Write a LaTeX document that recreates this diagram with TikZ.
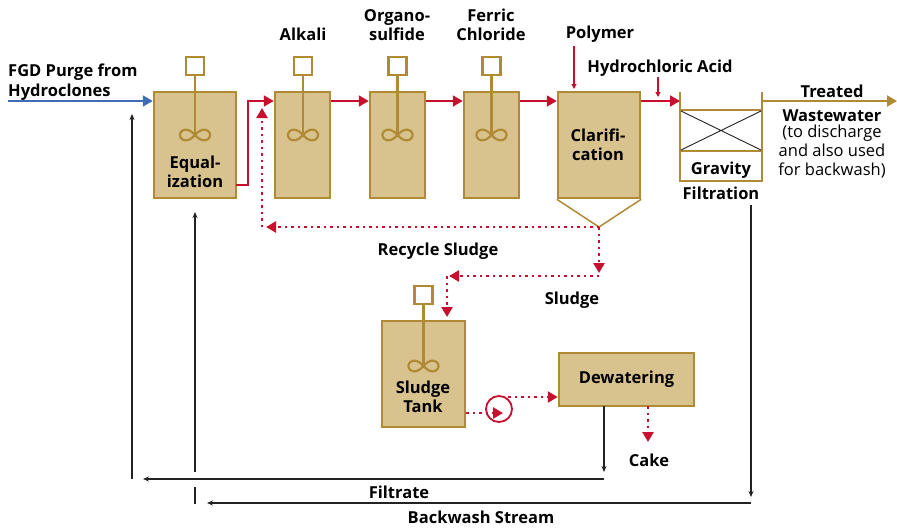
\documentclass[tikz,border=0pt]{standalone}
\usepackage{fontspec}
\setmainfont{Open Sans}
\usetikzlibrary{arrows.meta}
\definecolor{tankfill}{HTML}{D8C28E}
\definecolor{gold}{HTML}{B08A35}
\definecolor{rred}{HTML}{C8102E}
\definecolor{bblue}{HTML}{3E6DB5}
\definecolor{ink}{HTML}{222222}
\begin{document}
\begin{tikzpicture}[x=1pt,y=-1pt,
  every node/.style={font=\bfseries\fontsize{16.5}{19.5}\selectfont, inner sep=0pt, text=black},
  tank/.style={draw=gold, fill=tankfill, line width=2.5pt},
  lbl/.style={align=center},
  rflow/.style={draw=rred, line width=2pt, -{Triangle[length=10pt,width=11pt]}},
  rsmall/.style={draw=rred, line width=1.2pt, -{Triangle[length=5pt,width=5pt]}},
  rdot/.style={draw=rred, line width=2.5pt, dash pattern=on 2.5pt off 4pt, -{Triangle[length=10pt,width=11pt]}},
  bline/.style={draw=ink, line width=1.1pt, -{Stealth[length=6pt,width=5pt]}},
  blineplain/.style={draw=ink, line width=1.1pt},
  pics/stirrer/.style={code={
    \draw[gold, line width=2.3pt] (0,0) -- (0,#1);
    \draw[gold, line width=2.2pt, fill=white] (-9,-9) rectangle (9,9);
    \draw[gold, line width=2.2pt] plot[domain=0:360, samples=73] ({15*cos(\x)/(1+sin(\x)^2)}, {#1+15*sin(\x)*cos(\x)/(1+sin(\x)^2)});
  }}
]
\useasboundingbox (0,0) rectangle (897,528);

% tanks
\node[tank, minimum width=82pt, minimum height=106pt] (eq) at (195,145) {};
\node[tank, minimum width=55pt, minimum height=106pt] (alk) at (302.5,145) {};
\node[tank, minimum width=55pt, minimum height=106pt] (org) at (397.5,145) {};
\node[tank, minimum width=55pt, minimum height=106pt] (fer) at (491.5,145) {};
\node[tank, minimum width=82pt, minimum height=106pt] (clar) at (599,145) {};
\node[tank, minimum width=83pt, minimum height=106pt] (st) at (423.5,374) {};
\node[tank, minimum width=135pt, minimum height=53pt] (dew) at (626.5,379.5) {};

% hopper
\draw[gold, line width=1.5pt] (clar.south west) -- (599,227) coordinate (apex) -- (clar.south east);

% stirrers
\pic at (195,66) {stirrer=69};
\pic at (303,66) {stirrer=69};
\pic at (397.5,66) {stirrer=69};
\pic at (491.5,66) {stirrer=69};
\pic at (423.5,295) {stirrer=71};

% tank texts
\node[lbl] (eqt) at (195,172) {Equal-\\ization};
\node[lbl] (clt) at (598,145) {Clarifi-\\cation};
\node[lbl] (stt) at (423,397) {Sludge\\Tank};
\node (dewt) at (dew.center) {Dewatering};

% gravity filter
\draw[gold, line width=2.5pt] (680,92) -- (680,181) -- (762,181) -- (762,92);
\draw[gold, line width=2.5pt] (680,110) rectangle (762,151);
\draw[ink, line width=0.9pt] (681,111) -- (761,150) (681,150) -- (761,111);
\coordinate (filt) at (680,101);
\coordinate (filtout) at (762,101);
\node (grav) at (721,170) {Gravity};
\node (filtr) at (721,193) {Filtration};

% top labels
\node[lbl] (fgd) at (8,82) [anchor=west, align=left] {FGD Purge from\\Hydroclones};
\node (alkl) at (303,34) {Alkali};
\node[lbl] (orgl) at (397,25) {Organo-\\sulfide};
\node[lbl] (ferl) at (491,25) {Ferric\\Chloride};
\node (poly) at (600,34) {Polymer};
\node (hcl) at (660,68) {Hydrochloric Acid};
\node[lbl] (treat) at (832,91) {Treated};
\node[lbl] (ww) at (832,116) {Wastewater};
\node[lbl, font=\fontsize{16.5}{19}\selectfont] (disc) at (832,152) {(to discharge\\and also used\\for backwash)};

% main flow
\coordinate (fgdin) at (8,101);
\draw[draw=bblue, line width=2pt, -{Triangle[length=10pt,width=11pt]}] (fgdin) -- (eq.west |- fgdin);
\draw[rflow] (236,185) -- (248,185) -- (248,101) -- (alk.west |- 0,101);
\draw[rflow] (alk.east |- 0,101) -- (org.west |- 0,101);
\draw[rflow] (org.east |- 0,101) -- (fer.west |- 0,101);
\draw[rflow] (fer.east |- 0,101) -- (clar.west |- 0,101);
\draw[rflow] (clar.east |- 0,101) -- (filt);
\draw[rsmall] (574,46) -- (574,89);
\draw[rsmall] (658,77) -- (658,97);
\coordinate (outend) at (897,101);
\draw[draw=gold, line width=2pt, -{Triangle[length=10pt,width=11pt]}] (filtout) -- (outend);

% sludge lines
\draw[rdot] (apex) -- (266,227);
\draw[rdot] (262,227) -- (262,108);
\node (recl) at (438,251) {Recycle Sludge};
\draw[rdot] (apex) -- (599,273);
\draw[rdot] (599,276) -- (449,276);
\draw[rdot] (447,276) -- (447,317);
\node (sll) at (572,300) {Sludge};

% pump
\draw[rred, line width=1.8pt] (499,409) circle (13);
\coordinate (pump) at (499,409);
\draw[rdot] (st.east |- 0,413) -- (503,413);
\draw[rdot] (508,397) -- (dew.west |- 0,397);
\draw[rdot] (648,406) -- (648,442);
\node (cake) at (649,460) {Cake};

% return lines
\draw[bline] (604,406) -- (604,472);
\draw[bline] (604,479) -- (143,479);
\draw[bline] (132,479) -- (132,114);
\node (filtl) at (399,492) {Filtrate};
\draw[bline] (751,205) -- (751,497);
\draw[bline] (751,503) -- (207,503);
\draw[blineplain] (195,504) -- (195,487);
\draw[bline] (195,472) -- (195,212);
\node (bwl) at (481,517) {Backwash Stream};
\end{tikzpicture}
\end{document}
